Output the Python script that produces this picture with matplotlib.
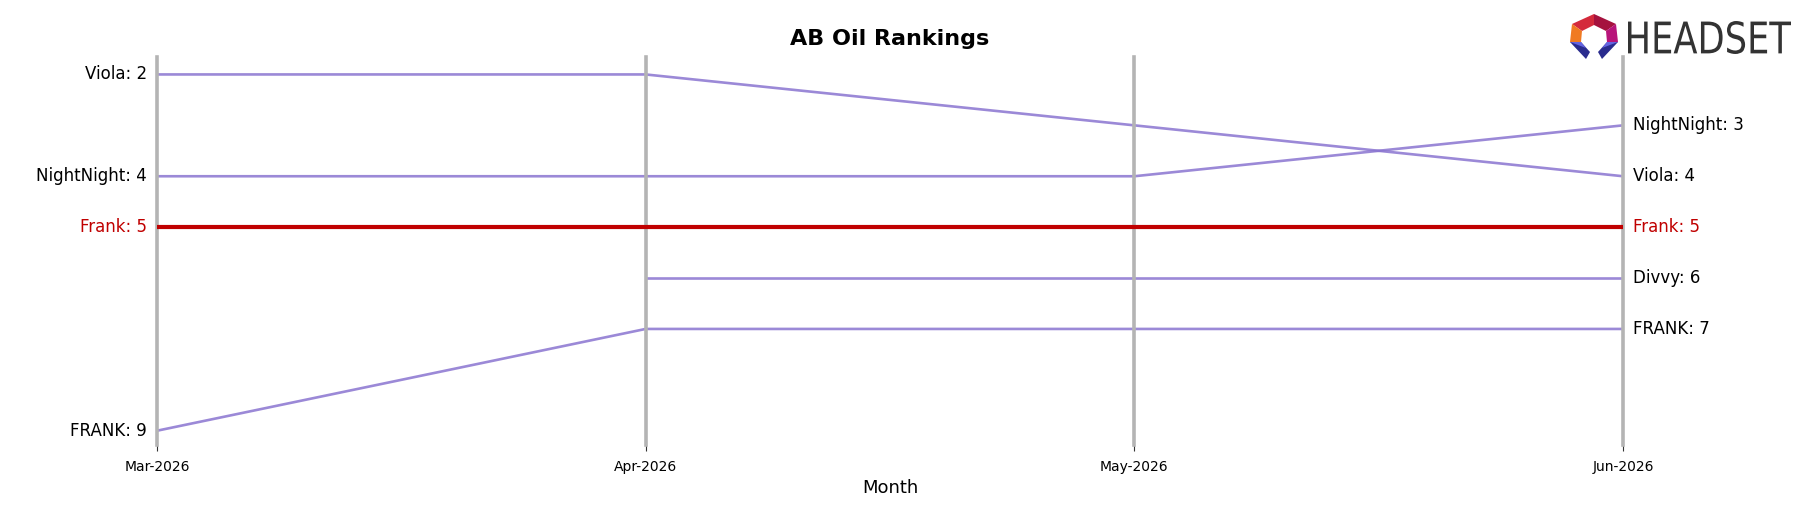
import numpy as np
import matplotlib
matplotlib.use("Agg")
import matplotlib.pyplot as plt
from matplotlib.patches import Polygon, PathPatch
from matplotlib.textpath import TextPath
from matplotlib.font_manager import FontProperties
from matplotlib.transforms import Affine2D, IdentityTransform

months = ["Mar-2026", "Apr-2026", "May-2026", "Jun-2026"]
brands = ["Viola", "NightNight", "Frank", "Divvy", "FRANK"]
rank_viola = [2, 2, 3, 4]
rank_nightnight = [4, 4, 4, 3]
rank_frank = [5, 5, 5, 5]
rank_divvy = [np.nan, 6, 6, 6]
rank_FRANK = [9, 7, 7, 7]
highlight = "Frank"

ranks = [rank_viola, rank_nightnight, rank_frank, rank_divvy, rank_FRANK]

W, H = 1808, 507
fig = plt.figure(figsize=(W / 100, H / 100), dpi=100)
ax = fig.add_axes([0.0868, 0.1223, 0.8109, 0.765])

x = np.arange(len(months))
purple = "#8a74d0"
red = "#c00000"

for xi in x:
    ax.axvline(xi, color="#b4b4b4", lw=2.6, zorder=3, clip_on=False)

for name, r in zip(brands, ranks):
    r = np.array(r, dtype=float)
    if name == highlight:
        ax.plot(x, r, color=red, lw=3.0, zorder=4, solid_capstyle="butt")
        col = red
    else:
        ax.plot(x, r, color=purple, lw=1.9, alpha=0.85, zorder=2)
        col = "black"
    valid = np.where(~np.isnan(r))[0]
    first, last = valid[0], valid[-1]
    if first == 0:
        ax.annotate(f"{name}: {int(r[first])}", xy=(x[first], r[first]),
                    xytext=(-10, 0), textcoords="offset pixels",
                    ha="right", va="center", fontsize=12, color=col)
    ax.annotate(f"{name}: {int(r[last])}", xy=(x[last], r[last]),
                xytext=(10, 0), textcoords="offset pixels",
                ha="left", va="center", fontsize=12, color=col)

ax.set_xlim(x[0], x[-1])
ax.set_ylim(9.28, 1.66)
ax.set_xticks(x)
ax.set_xticklabels(months, fontsize=10)
ax.set_yticks([])
for s in ax.spines.values():
    s.set_visible(False)
ax.tick_params(axis="x", length=4.5, width=0.8, color="#333333", pad=6)
ax.set_xlabel("Month", fontsize=13, labelpad=4)
ax.set_title("AB Oil Rankings", fontsize=16, fontweight="bold", pad=8.5)

# Logo (pixel coordinates from top-left)
def P(pts, c):
    fig.patches.append(Polygon([(px, H - py) for px, py in pts],
                               closed=True, transform=IdentityTransform(),
                               facecolor=c, edgecolor="none", zorder=10))
P([(1572, 24), (1594, 14), (1594, 25), (1582, 31)], "#d42a3c")
P([(1594, 14), (1616, 24), (1606, 31), (1594, 25)], "#a5123e")
P([(1572, 24), (1582, 31), (1581, 42), (1570, 42)], "#f07a22")
P([(1616, 24), (1618, 42), (1607, 42), (1606, 31)], "#b8147a")
P([(1570, 42), (1581, 42), (1590, 52), (1586, 59)], "#2a2c8e")
P([(1618, 42), (1607, 42), (1598, 52), (1602, 59)], "#2a2c8e")
P([(1570, 42), (1581, 42), (1586, 48)], "#6464e0")
P([(1618, 42), (1607, 42), (1602, 48)], "#6464e0")

tp = TextPath((0, 0), "HEADSET", size=50, prop=FontProperties(family="DejaVu Sans"))
bb = tp.get_extents()
x0, x1, top, base = 1628, 1791, 21, 54
sx = (x1 - x0) / bb.width
sy = (base - top) / bb.height
tr = Affine2D().translate(-bb.x0, -bb.y0).scale(sx, sy).translate(x0, H - base)
fig.patches.append(PathPatch(tp, transform=tr + IdentityTransform(),
                             facecolor="#333333", edgecolor="none", zorder=10))

fig.savefig("out.png", dpi=100)
